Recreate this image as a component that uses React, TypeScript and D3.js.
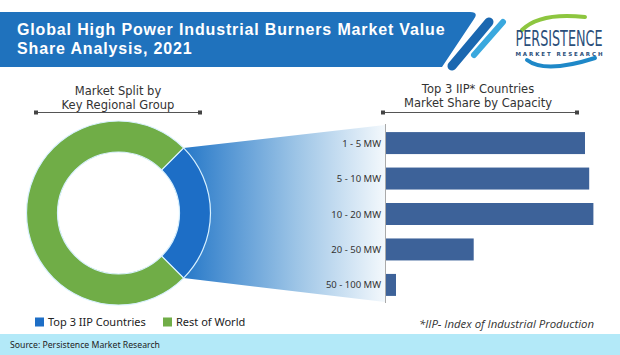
import React from "react";
import * as d3 from "d3";

const W = 620;
const H = 355;

const titleLines = ["Global High Power Industrial Burners Market Value", "Share Analysis, 2021"];
const donutTitle = ["Market Split by", "Key Regional Group"];
const barTitle = ["Top 3 IIP* Countries", "Market Share by Capacity"];

const segments = ["Top 3 IIP Countries", "Rest of World"];
const segmentShare = [25, 75];
const segmentColors = ["#1d6ec6", "#70ad47"];

const capacities = ["1 - 5 MW", "5 - 10 MW", "10 - 20 MW", "20 - 50 MW", "50 - 100 MW"];
const capacityShare = [95, 97, 99, 42, 5];

const footnote = "*IIP- Index of Industrial Production";
const source = "Source: Persistence Market Research";

const SANS = "'Open Sans', 'DejaVu Sans', sans-serif";
const LIB = "'Liberation Sans', Arial, sans-serif";
const DJ = "'DejaVu Sans', sans-serif";
const CAL = "'Noto Sans', 'Open Sans', sans-serif";

export default function App() {
  const cx = 118.5;
  const cy = 213;
  const rOuter = 92;
  const rInner = 61;

  const pie = d3
    .pie<number>()
    .sort(null)
    .startAngle(Math.PI / 4)
    .endAngle(Math.PI / 4 + 2 * Math.PI)
    .value((d) => d);
  const arcs = pie(segmentShare);
  const arcGen = d3.arc<d3.PieArcDatum<number>>().innerRadius(rInner).outerRadius(rOuter);

  const a0 = arcs[0].startAngle;
  const a1 = arcs[0].endAngle;
  const p0 = [cx + rOuter * Math.sin(a0), cy - rOuter * Math.cos(a0)];
  const p1 = [cx + rOuter * Math.sin(a1), cy - rOuter * Math.cos(a1)];

  const x = d3.scaleLinear().domain([0, 100]).range([385.5, 595.5]);
  const y = d3.scaleBand().domain(capacities).range([125, 303]).paddingInner(0.38).paddingOuter(0.2);

  const funnel = `M${p0[0]},${p0[1]} L385,125 L385,302 L${p1[0]},${p1[1]} Z`;

  return (
    <svg width={W} height={H} style={{ position: "absolute", left: 0, top: 0, display: "block" }}>
      <defs>
        <linearGradient id="fun" x1="183" y1="0" x2="388" y2="0" gradientUnits="userSpaceOnUse">
          <stop offset="0" stopColor="#2678c8" />
          <stop offset="0.55" stopColor="#9cc4e6" />
          <stop offset="1" stopColor="#f6fafd" />
        </linearGradient>
      </defs>
      <rect x={0} y={0} width={W} height={H} fill="#ffffff" />

      {/* header banner */}
      <path d="M0,12 H470 Q479,12 474,19 L442,67 H0 Z" fill="#1f72bd" />
      <line x1={452} y1={66} x2={489} y2={22} stroke="#1a67b0" strokeWidth={9} strokeLinecap="round" />
      <line x1={474} y1={55} x2={503} y2={22} stroke="#3aa8de" strokeWidth={6} strokeLinecap="round" />
      {titleLines.map((t, i) => (
        <text key={t} x={17} y={35 + i * 18.5} fill="#ffffff" fontFamily={LIB} fontWeight={700} fontSize={16} letterSpacing={0.85}>
          {t}
        </text>
      ))}

      {/* logo */}
      <g>
        <path d="M522,30 Q540,12 585,17" fill="none" stroke="#8dc63f" strokeWidth={4} strokeLinecap="round" />
        <path d="M527,60 Q545,74 595,58" fill="none" stroke="#1e88c8" strokeWidth={4} strokeLinecap="round" />
        <text
          transform="translate(559,45.5) scale(1,1.45)"
          textAnchor="middle"
          fill="#2b4f7a"
          fontFamily="'DejaVu Sans Condensed', 'DejaVu Sans', sans-serif"
          fontSize={15}
          textLength={87}
          lengthAdjust="spacingAndGlyphs"
        >
          PERSISTENCE
        </text>
        <text x={559} y={56} textAnchor="middle" fill="#2b4f7a" fontFamily={DJ} fontSize={5.5} fontWeight={700} textLength={87} lengthAdjust="spacing">
          MARKET RESEARCH
        </text>
      </g>

      {/* section titles */}
      {donutTitle.map((t, i) => (
        <text key={t} x={118} y={95 + i * 13.5} textAnchor="middle" fill="#333" fontFamily={DJ} fontSize={11.5}>
          {t}
        </text>
      ))}
      {barTitle.map((t, i) => (
        <text key={t} x={478} y={93 + i * 14} textAnchor="middle" fill="#333" fontFamily={DJ} fontSize={11.5}>
          {t}
        </text>
      ))}
      {[
        [36, 200],
        [383, 577],
      ].map(([a, b], i) => (
        <g key={i}>
          <line x1={a} x2={b} y1={112.5} y2={112.5} stroke="#555" strokeWidth={1} />
          <rect x={a - 2} y={110.5} width={4} height={4} fill="#444" />
          <rect x={b - 2} y={110.5} width={4} height={4} fill="#444" />
        </g>
      ))}

      {/* funnel */}
      <path d={funnel} fill="url(#fun)" />

      {/* donut */}
      <g transform={`translate(${cx},${cy})`}>
        {arcs.map((a, i) => (
          <path key={i} d={arcGen(a) || ""} fill={segmentColors[i]} stroke="#d8f1ff" strokeWidth={1.2} />
        ))}
      </g>

      {/* bars */}
      {capacities.map((c, i) => (
        <g key={c}>
          <rect x={x(0)} y={y(c)} width={x(capacityShare[i]) - x(0)} height={y.bandwidth()} fill="#3d6299" />
          <text x={381} y={(y(c) || 0) + y.bandwidth() / 2 + 3.5} textAnchor="end" fill="#333" fontFamily={CAL} fontSize={9.5}>
            {c}
          </text>
        </g>
      ))}
      <line x1={385.5} x2={385.5} y1={124} y2={303} stroke="#aaa" strokeWidth={1} />

      {/* legend */}
      {segments.map((s, i) => {
        const lx = i === 0 ? 35 : 163;
        return (
          <g key={s}>
            <rect x={lx} y={317.5} width={9} height={9} fill={segmentColors[i]} />
            <text x={lx + 13} y={326} fill="#222" fontFamily={CAL} fontSize={11}>
              {s}
            </text>
          </g>
        );
      })}

      <text x={594} y={328} textAnchor="end" fill="#333" fontFamily={SANS} fontStyle="italic" fontSize={11.4}>
        {footnote}
      </text>

      {/* footer */}
      <rect x={0} y={334} width={W} height={21} fill="#b3e9f8" />
      <text x={10} y={347.5} fill="#222" fontFamily={CAL} fontSize={8.7}>
        {source}
      </text>
    </svg>
  );
}
